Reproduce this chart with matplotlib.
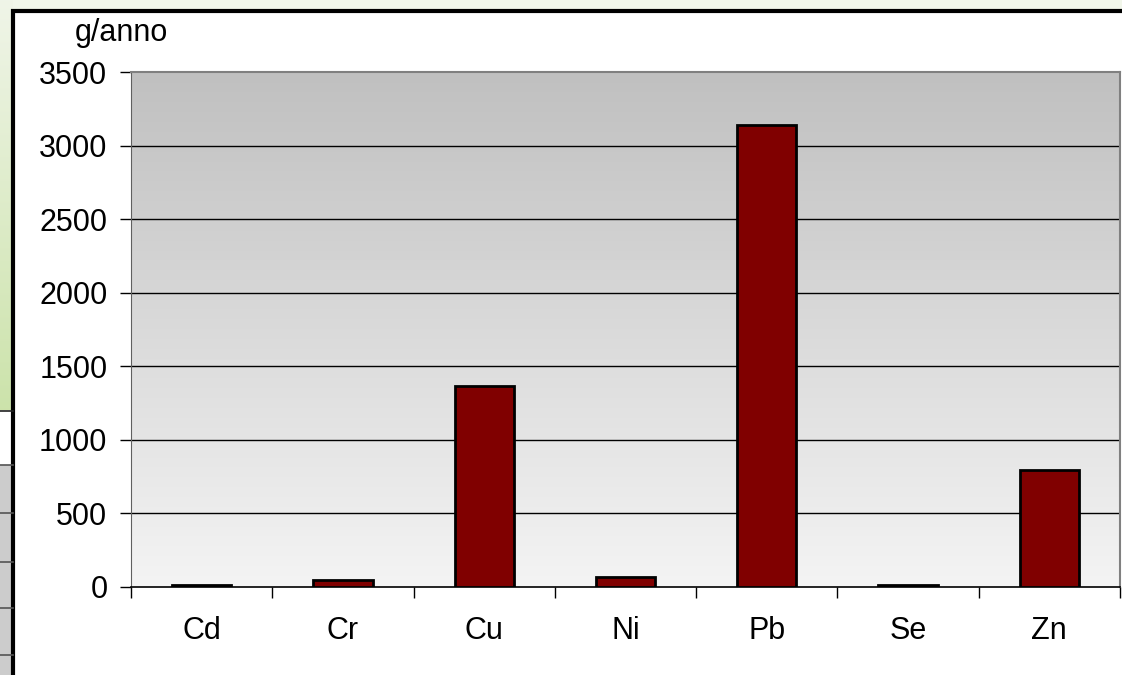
import matplotlib.pyplot as plt
import numpy as np
from matplotlib.patches import Rectangle
from matplotlib.lines import Line2D

plt.rcParams['font.family'] = ['Liberation Sans', 'DejaVu Sans']

# ─── data ──────────────────────────────────────────────────────────
metals = ["Cd", "Cr", "Cu", "Ni", "Pb", "Se", "Zn"]
g_per_year = [12, 48, 1365, 65, 3140, 12, 795]
y_ticks = [0, 500, 1000, 1500, 2000, 2500, 3000, 3500]
y_unit = "g/anno"

W, H = 1122, 675
FS = 22
fig = plt.figure(figsize=(W / 100, H / 100), dpi=100)
fig.patch.set_facecolor("#f1f6ea")


def fx(px):
    return px / W


def fy(py):
    return 1 - py / H


# left strip behind the chart: green gradient, then a table fragment
strip = fig.add_axes([0, fy(410), fx(13), fy(0) - fy(410)])
grad = np.linspace(0, 1, 256)[:, None]
c_top = np.array([0.94, 0.96, 0.91])
c_bot = np.array([0.80, 0.89, 0.67])
strip.imshow(c_top + grad[..., None] * (c_bot - c_top), aspect="auto",
             extent=[0, 1, 0, 1], origin="upper")
strip.axis("off")
fig.add_artist(Rectangle((0, fy(465)), fx(13), fy(411) - fy(465),
                         transform=fig.transFigure, color="white", zorder=0.5))
fig.add_artist(Rectangle((0, 0), fx(13), fy(465),
                         transform=fig.transFigure, color="#cccccc", zorder=0.5))
for yy in (411, 465, 513, 562, 608, 655):
    fig.add_artist(Line2D([0, fx(13)], [fy(yy), fy(yy)], transform=fig.transFigure,
                          color="#222222" if yy == 411 else "#555555", lw=1.2))

# chart frame
fig.add_artist(Rectangle((fx(13), -0.05), 1.1, fy(11) + 0.05,
                         transform=fig.transFigure, facecolor="white",
                         edgecolor="black", lw=3, zorder=1))

# ─── plot area ─────────────────────────────────────────────────────
ax = fig.add_axes([fx(131), fy(587), fx(1120) - fx(131), fy(72) - fy(587)])
ax.set_zorder(2)
x = np.arange(len(metals))
ax.set_xlim(-0.5, len(metals) - 0.5)
ax.set_ylim(0, 3500)

bg = np.linspace(0.753, 0.957, 256)[:, None]
ax.imshow(np.dstack([bg, bg, bg]), aspect="auto", origin="upper",
          extent=[-0.5, len(metals) - 0.5, 0, 3500], zorder=0)

for t in y_ticks[1:-1]:
    ax.axhline(t, color="black", lw=1.0, zorder=1)

ax.bar(x, g_per_year, width=0.42, color="#800000", edgecolor="black",
       lw=2, zorder=3)

ax.set_yticks(y_ticks)
ax.set_yticklabels([str(t) for t in y_ticks], fontsize=FS)
ax.set_xticks(x)
ax.set_xticklabels(metals, fontsize=FS)
ax.set_xticks(np.arange(-0.5, len(metals)), minor=True)
ax.tick_params(axis="x", which="major", length=0, pad=21)
ax.tick_params(axis="x", which="minor", length=8, width=1, color="black")
ax.tick_params(axis="y", length=8, width=1, pad=9, color="black")

for side in ("top", "right"):
    ax.spines[side].set_color("#808080")
    ax.spines[side].set_linewidth(1.5)
ax.spines["left"].set_color("#606060")
ax.spines["bottom"].set_color("black")
ax.spines["bottom"].set_linewidth(1.2)

fig.text(fx(121), fy(33), y_unit, fontsize=FS, ha="center", va="center")

fig.savefig("out.png", dpi=100, facecolor=fig.get_facecolor())
